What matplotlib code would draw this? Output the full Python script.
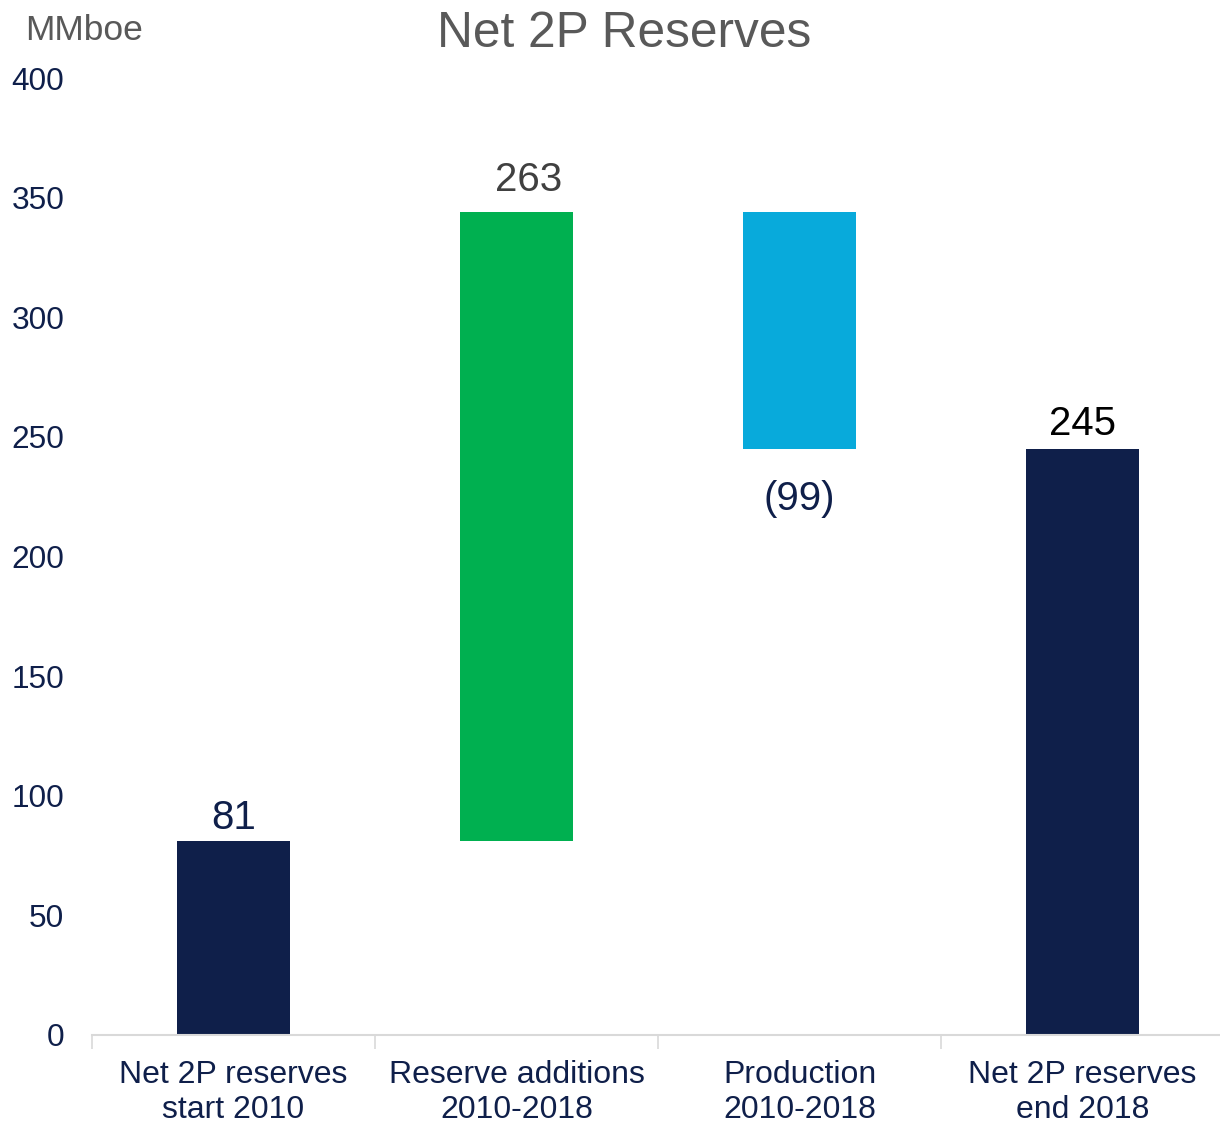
import matplotlib
matplotlib.use("Agg")
import matplotlib.pyplot as plt
import numpy as np

plt.rcParams['font.family'] = ['Liberation Sans', 'DejaVu Sans']

# Waterfall data (MMboe)
categories = ["Net 2P reserves\nstart 2010", "Reserve additions\n2010-2018",
              "Production\n2010-2018", "Net 2P reserves\nend 2018"]
changes = [81, 263, -99]
end_total = 245
value_labels = ["81", "263", "(99)", "245"]
y_ticks = [0, 50, 100, 150, 200, 250, 300, 350, 400]

navy = "#0F1F4A"
green = "#00B050"
blue = "#08AADB"
bar_colors = [navy, green, blue, navy]
label_colors = [navy, "#404040", navy, "#000000"]

# Floating bar geometry from the running total
running = np.cumsum([0] + changes)          # 0, 81, 344, 245
bottoms = [0, running[1], running[2], 0]
heights = [changes[0], changes[1], changes[2], end_total]

fig = plt.figure(figsize=(12.2, 11.24), dpi=100)
ax = fig.add_axes([92/1220, 1 - 1035/1124, (1224 - 92)/1220, (1035 - 78)/1124])

x = np.arange(len(categories))
ax.bar(x, heights, bottom=bottoms, width=0.4, color=bar_colors, zorder=2)

ax.set_xlim(-0.5, 3.5)
ax.set_ylim(0, 400)
ax.set_yticks(y_ticks)
ax.set_yticklabels([str(t) for t in y_ticks])
ax.tick_params(axis='y', length=0, pad=20, labelsize=22.8, labelcolor=navy)

ax.set_xticks(x)
ax.set_xticklabels(categories)
ax.tick_params(axis='x', which='major', length=0, pad=18, labelsize=23, labelcolor=navy)
ax.set_xticks(np.arange(-0.5, 4.0, 1.0), minor=True)
ax.tick_params(axis='x', which='minor', length=10, width=1.2, color="#D9D9D9")
for lbl in ax.get_xticklabels():
    lbl.set_linespacing(1.2)

for side in ['left', 'right', 'top']:
    ax.spines[side].set_visible(False)
ax.spines['bottom'].set_color("#D9D9D9")
ax.spines['bottom'].set_linewidth(1.5)

# Value labels: above positive bars, below the negative one
tops = [bottoms[i] + max(heights[i], 0) for i in range(4)]
offsets = [(0, 8.5), (9, 15), (0, -44), (0, 10)]
for i in range(4):
    anchor = tops[i] if heights[i] >= 0 else bottoms[i] + heights[i]
    ax.annotate(value_labels[i], (x[i], anchor), xytext=offsets[i],
                textcoords='offset points', ha='center', va='baseline',
                fontsize=29, color=label_colors[i])

fig.text(624/1220, 1 - 47/1124, "Net 2P Reserves", ha='center', va='baseline',
         fontsize=35.7, color="#595959")
fig.text(25/1220, 1 - 40/1124, "MMboe", ha='left', va='baseline',
         fontsize=25.5, color="#595959")

fig.savefig("out.png", dpi=100)
